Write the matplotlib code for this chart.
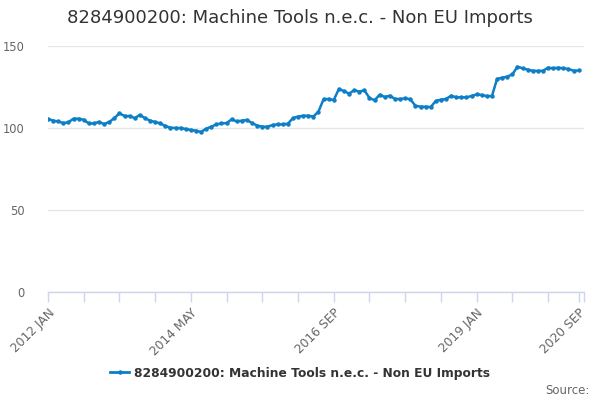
import matplotlib
matplotlib.use("Agg")
import matplotlib.pyplot as plt
from matplotlib.ticker import FixedLocator, NullFormatter
from matplotlib.lines import Line2D

title = "8284900200: Machine Tools n.e.c. - Non EU Imports"
series_name = "8284900200: Machine Tools n.e.c. - Non EU Imports"

values = [
    105.5, 104.5, 104.0, 103.0, 103.5, 105.7, 105.7, 105.0, 102.8, 102.8,
    103.7, 102.4, 103.7, 106.0, 109.0, 107.3, 107.3, 106.0, 108.0, 106.0,
    104.5, 103.7, 102.8, 101.2, 100.2, 100.0, 100.0, 99.4, 98.8, 98.4,
    97.6, 99.6, 100.8, 102.2, 102.8, 103.0, 105.3, 104.0, 104.5, 104.9,
    103.0, 101.5, 100.8, 100.8, 101.8, 102.2, 102.2, 102.6, 106.0, 107.0,
    107.5, 107.5, 107.0, 110.0, 117.5, 117.7, 117.1, 123.8, 122.5, 121.0,
    123.0, 122.2, 123.0, 118.3, 116.9, 120.3, 118.9, 119.7, 117.7, 117.7,
    118.1, 117.5, 113.6, 113.0, 113.0, 112.8, 116.5, 117.3, 117.7, 119.7,
    118.7, 118.7, 118.7, 119.5, 120.5, 120.1, 119.5, 119.5, 129.9, 130.7,
    131.3, 132.7, 137.4, 136.4, 135.6, 134.9, 134.8, 134.9, 136.8, 136.4,
    136.8, 136.4, 136.0, 134.9, 135.1,
]

tick_positions = [0, 28, 56, 84, 104]
tick_labels = ["2012 JAN", "2014 MAY", "2016 SEP", "2019 JAN", "2020 SEP"]
minor_positions = list(range(0, 106, 7))
y_ticks = [0, 50, 100, 150]

line_color = "#0d7fc6"
axis_color = "#ccd6eb"
grid_color = "#e6e6e6"

fig = plt.figure(figsize=(6, 4), dpi=100)
ax = fig.add_axes([0.08, 0.27, 0.893, 0.615])

x = list(range(len(values)))
ax.plot(x, values, color=line_color, lw=1.8, marker="o", ms=3.2,
        markeredgewidth=0, zorder=3)

ax.set_xlim(0, 105)
ax.set_ylim(0, 150)
ax.set_yticks(y_ticks)
ax.set_yticklabels([str(v) for v in y_ticks], fontsize=8.3, color="#666666")
ax.yaxis.grid(True, color=grid_color, lw=1)
ax.set_axisbelow(True)
ax.tick_params(axis="y", length=0, pad=17)

ax.xaxis.set_major_locator(FixedLocator(tick_positions))
ax.set_xticklabels(tick_labels, rotation=45, ha="right", rotation_mode="anchor",
                   fontsize=8.8, color="#666666")
ax.xaxis.set_minor_locator(FixedLocator(minor_positions))
ax.xaxis.set_minor_formatter(NullFormatter())
ax.tick_params(axis="x", which="both", length=7, color=axis_color, width=1, pad=3)

for s in ["top", "right", "left"]:
    ax.spines[s].set_visible(False)
ax.spines["bottom"].set_color(axis_color)
ax.spines["bottom"].set_linewidth(1)

fig.text(0.5, 0.955, title, ha="center", va="center", fontsize=13, color="#333333")

handle = Line2D([], [], color=line_color, lw=2, marker="o", ms=3.2, markeredgewidth=0)
fig.legend([handle], [series_name], loc="center", bbox_to_anchor=(0.5, 0.067),
           frameon=False, prop={"size": 8.8, "weight": "bold"}, labelcolor="#333333",
           handlelength=1.6, handletextpad=0.4)

fig.text(0.982, 0.025, "Source:", ha="right", va="center", fontsize=8.5, color="#666666")

fig.savefig("out.png", dpi=100)
